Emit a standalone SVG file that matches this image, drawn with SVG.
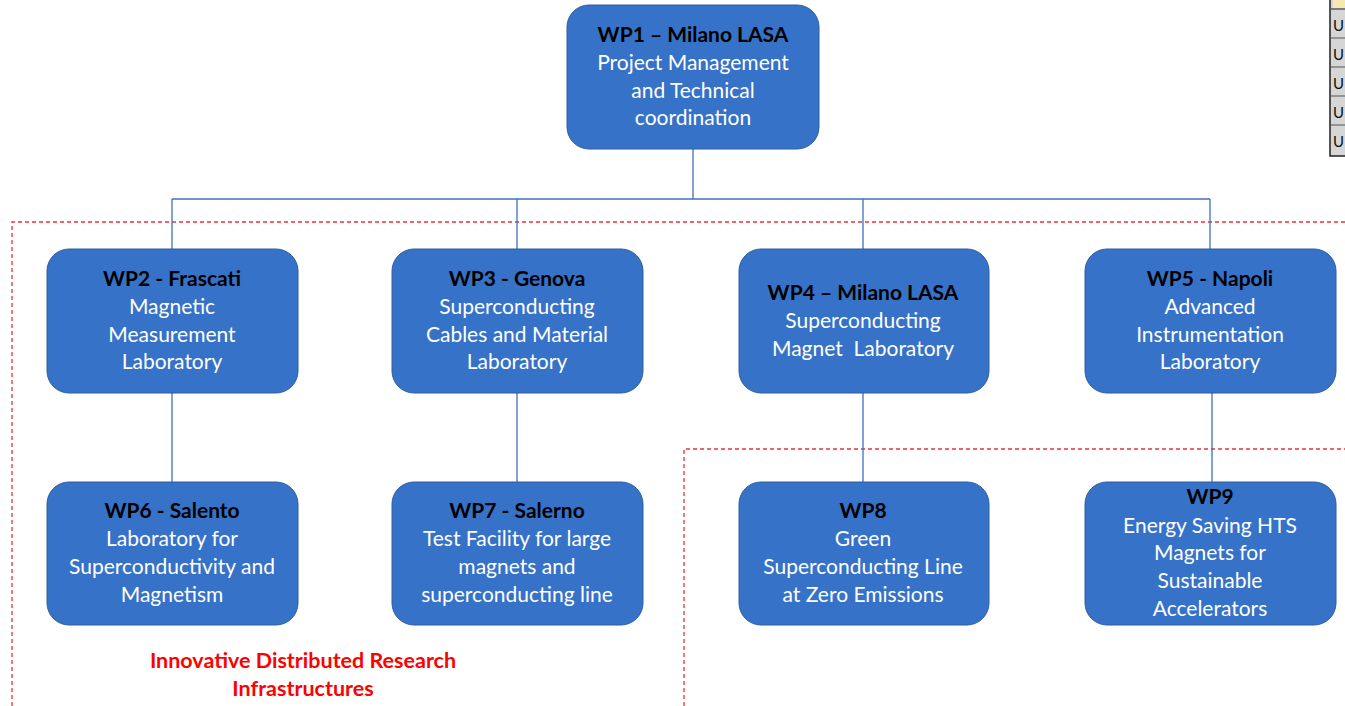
<svg xmlns="http://www.w3.org/2000/svg" width="1345" height="706" viewBox="0 0 1345 706">
<style>
.node rect{fill:#3672C8;stroke:#2D5C9E;stroke-width:1}
.node text{font-family:Lato,"Open Sans",sans-serif;font-size:21px;text-anchor:middle;fill:#FFFFFF}
.node text.t{font-weight:bold;fill:#000000}
.conn line{stroke:#3F6FC0;stroke-width:1.3}
.dash{stroke:#E8323A;stroke-width:1.3;stroke-dasharray:4,3;fill:none}
.lbl{font-family:Lato,"Open Sans",sans-serif;font-size:21.5px;font-weight:bold;fill:#FF0000;text-anchor:middle}
.cg{font-family:Lato,sans-serif;font-size:15px;fill:#111}
</style>
<rect width="1345" height="706" fill="#FFFFFF"/>
<g id="corner">
<rect x="1330" y="-2" width="20" height="158" fill="#D6D6D6" stroke="#222" stroke-width="1.5"/>
<rect x="1333" y="0" width="14" height="8" fill="#F6E9B0"/>
<line x1="1331" y1="9" x2="1345" y2="9" stroke="#222"/>
<line x1="1331" y1="38" x2="1345" y2="38" stroke="#555"/>
<line x1="1331" y1="67" x2="1345" y2="67" stroke="#555"/>
<line x1="1331" y1="96" x2="1345" y2="96" stroke="#555"/>
<line x1="1331" y1="125" x2="1345" y2="125" stroke="#555"/>
<text class="cg" x="1333" y="31">U</text>
<text class="cg" x="1333" y="60">U</text>
<text class="cg" x="1333" y="89">U</text>
<text class="cg" x="1333" y="118">U</text>
<text class="cg" x="1333" y="147">U</text>
</g>
<g id="regions">
<path class="dash" d="M12 706 V222 H1345"/>
<path class="dash" d="M684 706 V449 H1345"/>
<text class="lbl" x="303" y="668">Innovative Distributed Research</text>
<text class="lbl" x="303" y="696">Infrastructures</text>
</g>
<g id="connectors" class="conn">
<line x1="693" y1="149" x2="693" y2="199"/>
<line x1="172" y1="199" x2="1210" y2="199"/>
<line x1="172" y1="199" x2="172" y2="249"/>
<line x1="517" y1="199" x2="517" y2="249"/>
<line x1="863" y1="199" x2="863" y2="249"/>
<line x1="1210" y1="199" x2="1210" y2="249"/>
<line x1="172" y1="393" x2="172" y2="482"/>
<line x1="517" y1="393" x2="517" y2="482"/>
<line x1="863" y1="393" x2="863" y2="482"/>
<line x1="1212" y1="393" x2="1212" y2="482"/>
</g>
<g id="wp1" class="node">
<rect x="567" y="5" width="252" height="144" rx="22"/>
<text class="t" x="693" y="42">WP1 – Milano LASA</text>
<text x="693" y="70">Project Management</text>
<text x="693" y="98">and Technical</text>
<text x="693" y="125">coordination</text>
</g>
<g id="wp2" class="node">
<rect x="47" y="249" width="251" height="144" rx="22"/>
<text class="t" x="172" y="286">WP2 - Frascati</text>
<text x="172" y="314">Magnetic</text>
<text x="172" y="342">Measurement</text>
<text x="172" y="369">Laboratory</text>
</g>
<g id="wp3" class="node">
<rect x="392" y="249" width="251" height="144" rx="22"/>
<text class="t" x="517" y="286">WP3 - Genova</text>
<text x="517" y="314">Superconducting</text>
<text x="517" y="342">Cables and Material</text>
<text x="517" y="369">Laboratory</text>
</g>
<g id="wp4" class="node">
<rect x="739" y="249" width="250" height="144" rx="22"/>
<text class="t" x="863" y="300">WP4 – Milano LASA</text>
<text x="863" y="328">Superconducting</text>
<text x="863" y="356" xml:space="preserve">Magnet  Laboratory</text>
</g>
<g id="wp5" class="node">
<rect x="1085" y="249" width="251" height="144" rx="22"/>
<text class="t" x="1210" y="286">WP5 - Napoli</text>
<text x="1210" y="314">Advanced</text>
<text x="1210" y="342">Instrumentation</text>
<text x="1210" y="369">Laboratory</text>
</g>
<g id="wp6" class="node">
<rect x="47" y="482" width="251" height="143" rx="22"/>
<text class="t" x="172" y="518">WP6 - Salento</text>
<text x="172" y="546">Laboratory for</text>
<text x="172" y="574">Superconductivity and</text>
<text x="172" y="602">Magnetism</text>
</g>
<g id="wp7" class="node">
<rect x="392" y="482" width="251" height="143" rx="22"/>
<text class="t" x="517" y="518">WP7 - Salerno</text>
<text x="517" y="546">Test Facility for large</text>
<text x="517" y="574">magnets and</text>
<text x="517" y="602">superconducting line</text>
</g>
<g id="wp8" class="node">
<rect x="739" y="482" width="250" height="143" rx="22"/>
<text class="t" x="863" y="518">WP8</text>
<text x="863" y="546">Green</text>
<text x="863" y="574">Superconducting Line</text>
<text x="863" y="602">at Zero Emissions</text>
</g>
<g id="wp9" class="node">
<rect x="1085" y="482" width="251" height="143" rx="22"/>
<text class="t" x="1210" y="504">WP9</text>
<text x="1210" y="533">Energy Saving HTS</text>
<text x="1210" y="560">Magnets for</text>
<text x="1210" y="588">Sustainable</text>
<text x="1210" y="616">Accelerators</text>
</g>
</svg>
